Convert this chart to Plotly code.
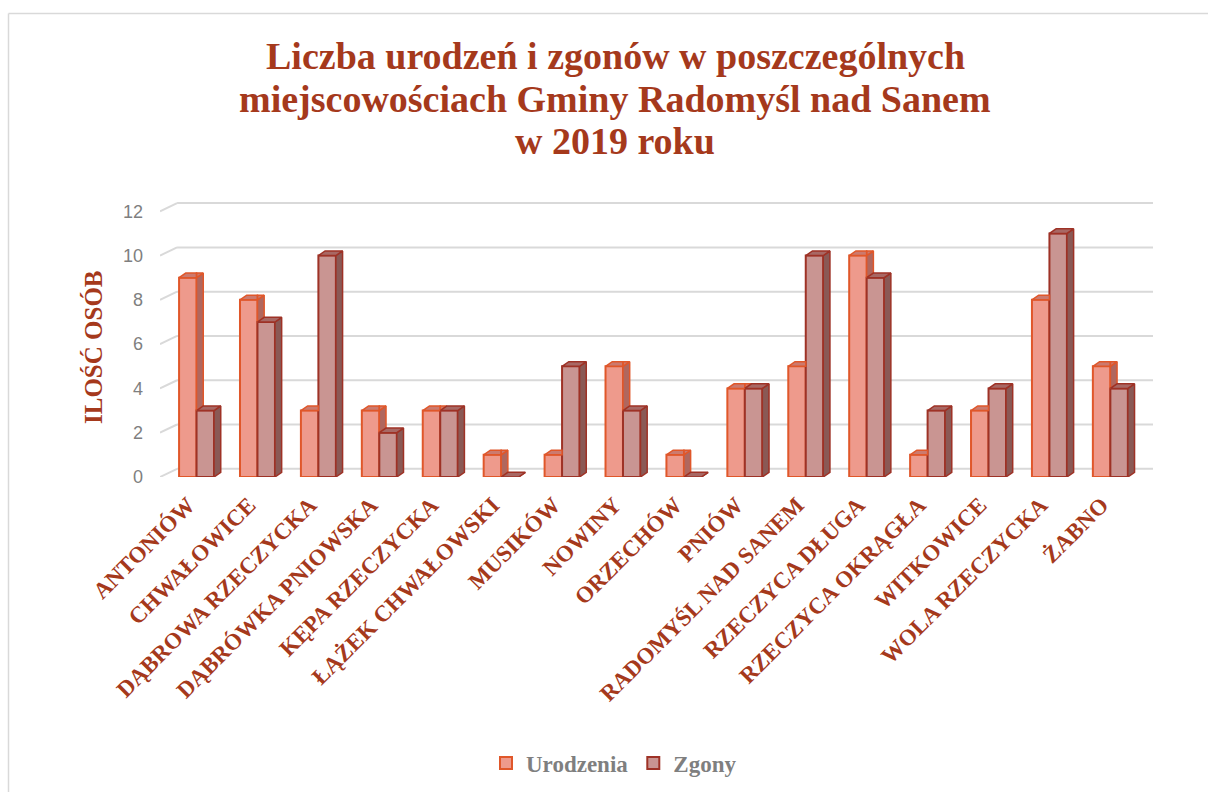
import plotly.graph_objects as go

# ---- data ----
categories = ["ANTONIÓW", "CHWAŁOWICE", "DĄBROWA RZECZYCKA", "DĄBRÓWKA PNIOWSKA",
              "KĘPA RZECZYCKA", "ŁĄŻEK CHWAŁOWSKI", "MUSIKÓW", "NOWINY", "ORZECHÓW",
              "PNIÓW", "RADOMYŚL NAD SANEM", "RZECZYCA DŁUGA", "RZECZYCA OKRĄGŁA",
              "WITKOWICE", "WOLA RZECZYCKA", "ŻABNO"]
urodzenia = [9, 8, 3, 3, 3, 1, 1, 5, 1, 4, 5, 10, 1, 3, 8, 5]
zgony = [3, 7, 10, 2, 3, 0, 5, 3, 0, 4, 10, 9, 3, 4, 11, 4]
y_ticks = [0, 2, 4, 6, 8, 10, 12]

title_lines = ["Liczba urodzeń i zgonów w poszczególnych",
               "miejscowościach Gminy Radomyśl nad Sanem",
               "w 2019 roku"]

# ---- style ----
RED = "#A5391C"
U_FILL, U_LINE, U_SIDE, U_TOP = "#EE9A8C", "#E0572A", "#B0675E", "#CC7A6E"
Z_FILL, Z_LINE, Z_SIDE, Z_TOP = "#C99592", "#9E3226", "#8A5955", "#A86864"
W = 0.287          # bar width (category units)
DX, DY = 0.11, 0.21  # 3-D depth offset (x units, y units)
BACK = 0.37        # back-wall offset of gridlines (y units)
LABEL_SHIFT = 0.14  # rotated labels end slightly left of the group centre
XR = [-0.6, 15.7]
YR = [0, 12.6]
SERIF = "Liberation Serif, Times New Roman, serif"

x = list(range(len(categories)))


def clip(poly, f):
    out = []
    n = len(poly)
    for i in range(n):
        p, q = poly[i], poly[(i + 1) % n]
        fp, fq = f(p), f(q)
        if fp >= 0:
            out.append(p)
        if (fp >= 0) != (fq >= 0):
            t = fp / (fp - fq)
            out.append((p[0] + t * (q[0] - p[0]), p[1] + t * (q[1] - p[1])))
    return out


def add_polys(polys):
    xs, ys = [], []
    for poly in polys:
        if len(poly) < 3:
            continue
        for px, py in poly + [poly[0]]:
            xs.append(px)
            ys.append(py)
        xs.append(None)
        ys.append(None)
    return xs, ys


u_side, u_top, z_side, z_top = [], [], [], []
for i, (u, z) in enumerate(zip(urodzenia, zgony)):
    xl = i - W
    xr = i
    f = lambda p, xr=xr, z=z: p[1] - (p[0] - xr) * DY / DX - z
    u_side.append(clip([(xr, 0), (xr + DX, DY), (xr + DX, u + DY), (xr, u)], f))
    u_top.append([(xl, u), (xl + DX, u + DY), (xr, u + DY), (xr, u)])
    u_top.append(clip([(xr, u), (xr, u + DY), (xr + DX, u + DY)], f))
    zl, zr = i, i + W
    z_side.append([(zr, 0), (zr + DX, DY), (zr + DX, z + DY), (zr, z)])
    z_top.append([(zl, z), (zl + DX, z + DY), (zr + DX, z + DY), (zr, z)])

fig = go.Figure()

fig.add_trace(go.Bar(x=x, y=urodzenia, name="Urodzenia", width=W, offset=-W,
                     marker=dict(color=U_FILL, line=dict(color=U_LINE, width=2))))
sx, sy = add_polys(u_side)
fig.add_trace(go.Scatter(x=sx, y=sy, mode="lines", fill="toself", fillcolor=U_SIDE,
                         line=dict(color=U_LINE, width=1.5), showlegend=False, hoverinfo="skip"))
tx, ty = add_polys(u_top)
fig.add_trace(go.Scatter(x=tx, y=ty, mode="lines", fill="toself", fillcolor=U_TOP,
                         line=dict(color=U_LINE, width=1.5), showlegend=False, hoverinfo="skip"))

fig.add_trace(go.Bar(x=x, y=zgony, name="Zgony", width=W, offset=0,
                     marker=dict(color=Z_FILL, line=dict(color=Z_LINE, width=2))))
sx, sy = add_polys(z_side)
fig.add_trace(go.Scatter(x=sx, y=sy, mode="lines", fill="toself", fillcolor=Z_SIDE,
                         line=dict(color=Z_LINE, width=1.5), showlegend=False, hoverinfo="skip"))
tx, ty = add_polys(z_top)
fig.add_trace(go.Scatter(x=tx, y=ty, mode="lines", fill="toself", fillcolor=Z_TOP,
                         line=dict(color=Z_LINE, width=1.5), showlegend=False, hoverinfo="skip"))

shapes = []
for v in y_ticks:
    shapes.append(dict(type="line", xref="x", yref="y", layer="below",
                       x0=XR[0], y0=v, x1=XR[0] + 0.28, y1=v + BACK,
                       line=dict(color="#D9D9D9", width=2)))
    shapes.append(dict(type="line", xref="x", yref="y", layer="below",
                       x0=XR[0] + 0.28, y0=v + BACK, x1=XR[1], y1=v + BACK,
                       line=dict(color="#D9D9D9", width=2)))

PL, PT, PB, PW, PH = 160, 198, 477, 993, 279
def px_x(p): return (p - PL) / PW
def px_y(p): return (PB - p) / PH
shapes.append(dict(type="line", xref="paper", yref="paper", x0=px_x(8.5), y0=px_y(13.5),
                   x1=px_x(1220), y1=px_y(13.5), line=dict(color="#D9D9D9", width=1.5)))
shapes.append(dict(type="line", xref="paper", yref="paper", x0=px_x(8.5), y0=px_y(13.5),
                   x1=px_x(8.5), y1=px_y(800), line=dict(color="#D9D9D9", width=1.5)))

annotations = []
for k, line in enumerate(title_lines):
    annotations.append(dict(text=line, xref="paper", yref="paper",
                            x=px_x(615), y=px_y(56 + 42.5 * k), xanchor="center", yanchor="middle",
                            showarrow=False,
                            font=dict(family=SERIF, size=38, color=RED, weight="bold")))
annotations.append(dict(text="ILOŚĆ OSÓB", xref="paper", yref="paper",
                        x=px_x(93), y=px_y(347), xanchor="center", yanchor="middle",
                        textangle=-90, showarrow=False,
                        font=dict(family=SERIF, size=25, color=RED, weight="bold")))

fig.update_layout(
    width=1208, height=792,
    margin=dict(l=PL, r=1208 - PL - PW, t=PT, b=792 - PB, autoexpand=False),
    paper_bgcolor="white", plot_bgcolor="white",
    barmode="overlay",
    shapes=shapes, annotations=annotations,
    showlegend=True,
    legend=dict(orientation="h", x=px_x(614), y=px_y(763), xanchor="center", yanchor="middle",
                font=dict(family="Liberation Serif", size=23, color="#7F7F7F", weight="bold"),
                itemwidth=30, traceorder="normal"),
    xaxis=dict(range=XR, tickvals=[i - LABEL_SHIFT for i in x], ticktext=categories,
               tickangle=-45, showgrid=False, zeroline=False, showline=False, ticks="",
               ticklabelstandoff=9,
               tickfont=dict(family=SERIF, size=23, color=RED, weight="bold"), automargin=False),
    yaxis=dict(range=YR, tickvals=y_ticks, showgrid=False, zeroline=False, showline=False,
               ticks="", ticklabelstandoff=16,
               tickfont=dict(family="Liberation Sans, Arial, sans-serif", size=18, color="#7F7F7F"),
               automargin=False),
)

fig.write_html("out.html", config={"displayModeBar": False},
               post_script="document.body.style.margin='0';")
